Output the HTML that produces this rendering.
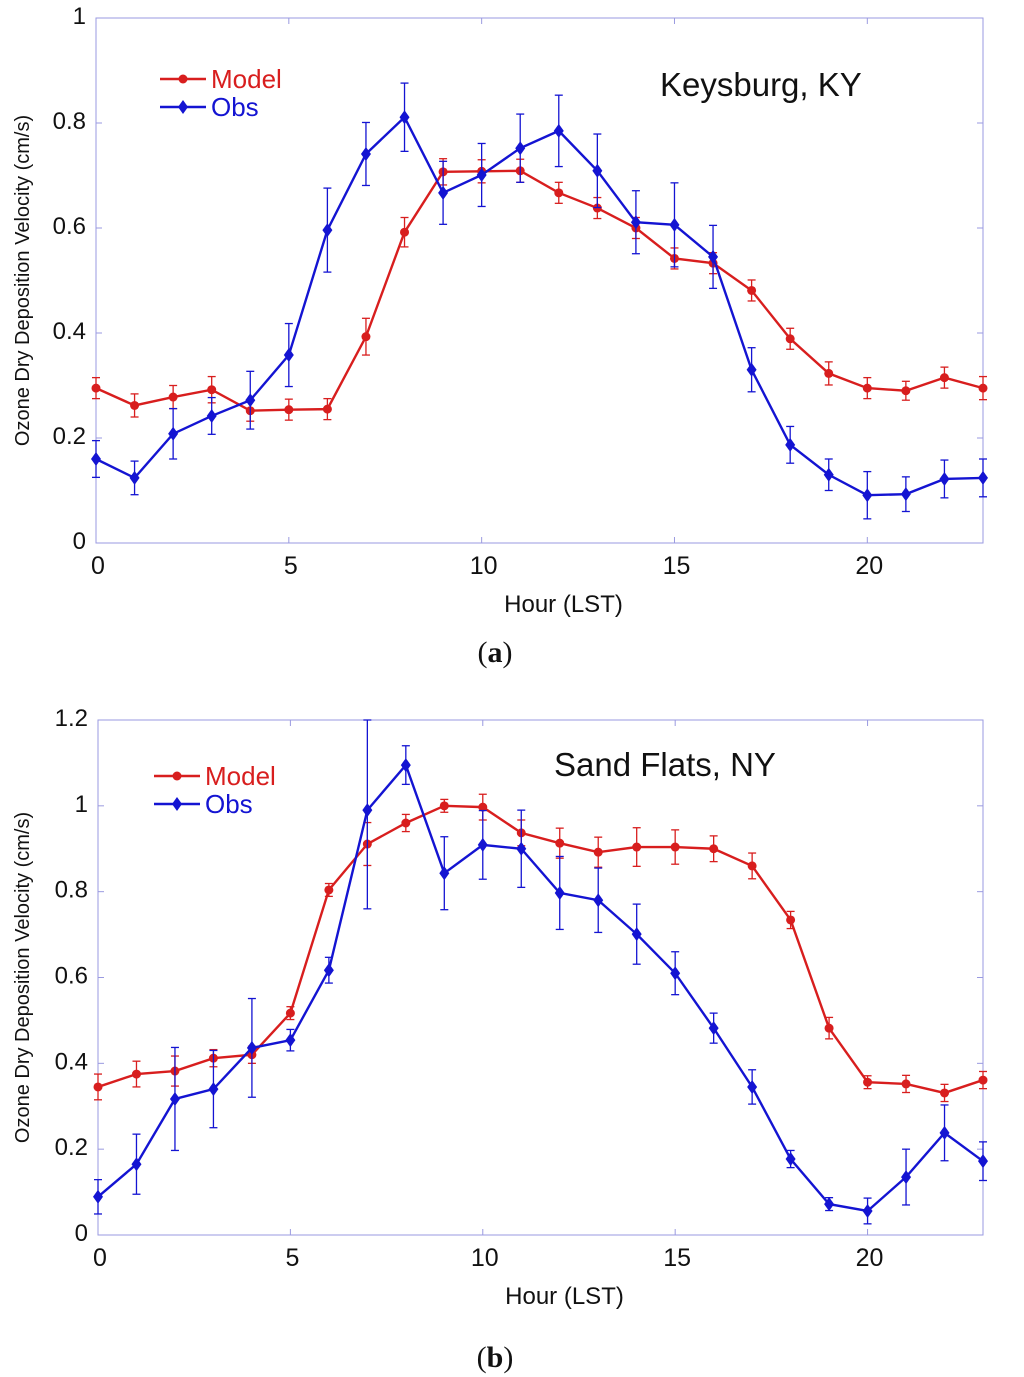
<!DOCTYPE html>
<html><head><meta charset="utf-8">
<style>
body{margin:0;background:#fff;width:1024px;height:1377px;overflow:hidden;font-family:"Liberation Sans",sans-serif}
svg{position:absolute;left:0;top:0}
</style></head>
<body>
<svg id="chart" width="1024" height="1377"></svg>
<script>
const hours=[...Array(24).keys()];
const aModel=[0.295,0.262,0.278,0.292,0.252,0.254,0.255,0.393,0.592,0.707,0.708,0.709,0.667,0.638,0.600,0.542,0.533,0.481,0.389,0.323,0.295,0.290,0.315,0.295];
const aModelErr=[0.02,0.022,0.022,0.025,0.02,0.02,0.02,0.035,0.028,0.025,0.022,0.022,0.02,0.02,0.02,0.02,0.02,0.02,0.02,0.022,0.02,0.018,0.02,0.022];
const aObs=[0.16,0.124,0.208,0.242,0.272,0.358,0.596,0.741,0.811,0.667,0.701,0.752,0.785,0.709,0.611,0.606,0.545,0.33,0.187,0.13,0.091,0.093,0.122,0.124];
const aObsErr=[0.035,0.032,0.048,0.035,0.055,0.06,0.08,0.06,0.065,0.06,0.06,0.065,0.068,0.07,0.06,0.08,0.06,0.042,0.035,0.03,0.045,0.033,0.036,0.036];
const bModel=[0.345,0.375,0.382,0.412,0.42,0.517,0.804,0.911,0.96,1.0,0.997,0.937,0.913,0.892,0.904,0.904,0.9,0.86,0.734,0.482,0.356,0.352,0.331,0.361];
const bModelErr=[0.03,0.03,0.035,0.02,0.02,0.015,0.015,0.05,0.02,0.015,0.03,0.03,0.035,0.035,0.045,0.04,0.03,0.03,0.02,0.025,0.015,0.02,0.02,0.02];
const bObs=[0.089,0.165,0.317,0.34,0.436,0.454,0.617,0.99,1.095,0.843,0.909,0.9,0.797,0.78,0.701,0.61,0.482,0.345,0.177,0.072,0.056,0.135,0.238,0.172];
const bObsErr=[0.04,0.07,0.12,0.09,0.115,0.025,0.03,0.23,0.045,0.085,0.08,0.09,0.085,0.075,0.07,0.05,0.035,0.04,0.02,0.015,0.03,0.065,0.065,0.045];
const xTicks=[0,5,10,15,20];
const aYTicks=[0,0.2,0.4,0.6,0.8,1];
const bYTicks=[0,0.2,0.4,0.6,0.8,1,1.2];
const aYLabels=["0","0.2","0.4","0.6","0.8","1"];
const bYLabels=["0","0.2","0.4","0.6","0.8","1","1.2"];
const RED="#d81e1e",BLUE="#1414d2";
const svg=document.getElementById('chart');
const NS="http://www.w3.org/2000/svg";
function el(tag,attrs,parent,text){const e=document.createElementNS(NS,tag);for(const k in attrs)e.setAttribute(k,attrs[k]);if(text!==undefined)e.textContent=text;(parent||svg).appendChild(e);return e;}
function panel(cfg){
  const g=el('g',{});
  
  
  const xs=h=>cfg.x0+(cfg.x1-cfg.x0)*h/23;
  const ys=v=>cfg.yb-(cfg.yb-cfg.yt)*v/cfg.ymax;
  const box=el('rect',{x:cfg.bx0,y:cfg.yt,width:cfg.bx1-cfg.bx0,height:cfg.yb-cfg.yt,fill:'none',stroke:'#9a9ae0','stroke-width':1},g);
  
  
  cfg.yTicks.forEach((t,i)=>{
    const y=ys(t);
    el('line',{x1:cfg.bx0,x2:cfg.bx0+6,y1:y,y2:y,stroke:'#9a9ae0'},g);
    el('line',{x1:cfg.bx1,x2:cfg.bx1-6,y1:y,y2:y,stroke:'#9a9ae0'},g);
    const tx=el('text',{x:cfg.bx0-10,y:y+6,'text-anchor':'end','font-size':24,fill:'#111'},g,cfg.yLabels[i]);
    
    
  });
  xTicks.forEach(t=>{
    const x=xs(t);
    el('line',{x1:x,x2:x,y1:cfg.yb,y2:cfg.yb-6,stroke:'#9a9ae0'},g);
    el('line',{x1:x,x2:x,y1:cfg.yt,y2:cfg.yt+6,stroke:'#9a9ae0'},g);
    const tx=el('text',{x:x+2,y:cfg.yb+31,'text-anchor':'middle','font-size':25,fill:'#111'},g,String(t));
    
    
  });
  const xt=el('text',{x:(cfg.bx0+cfg.bx1)/2+24,y:cfg.yb+69,'text-anchor':'middle','font-size':24,fill:'#111'},g,'Hour (LST)');
  
  
  const ty=(cfg.yt+cfg.yb)/2;
  const yt=el('text',{x:0,y:0,transform:`translate(${cfg.ytx},${ty}) rotate(-90)`,'text-anchor':'middle','font-size':20,fill:'#111'},g,'Ozone Dry Deposition Velocity (cm/s)');
  
  
  function series(vals,errs,color,marker,name){
    const sg=el('g',{},g);
    
    
    hours.forEach(h=>{
      const x=xs(h);
      const top=Math.max(ys(vals[h]+errs[h]),cfg.yt), bot=ys(vals[h]-errs[h]);
      el('line',{x1:x,x2:x,y1:top,y2:bot,stroke:color,'stroke-width':1.3},sg);
      el('line',{x1:x-4,x2:x+4,y1:top,y2:top,stroke:color,'stroke-width':1.3},sg);
      el('line',{x1:x-4,x2:x+4,y1:bot,y2:bot,stroke:color,'stroke-width':1.3},sg);
    });
    el('polyline',{points:hours.map(h=>xs(h)+','+ys(vals[h])).join(' '),fill:'none',stroke:color,'stroke-width':2.4},sg);
    hours.forEach(h=>{
      const x=xs(h),y=ys(vals[h]);
      const m=marker==='circle'?el('circle',{cx:x,cy:y,r:4.5,fill:color},sg):el('polygon',{points:`${x},${y-7} ${x+5},${y} ${x},${y+7} ${x-5},${y}`,fill:color},sg);
      
      
    });
  }
  series(cfg.model,cfg.modelErr,RED,'circle','model-series');
  series(cfg.obs,cfg.obsErr,BLUE,'diamond','obs-series');
  const lg=el('g',{},g);
  
  
  const lx=cfg.lx,ly=cfg.ly;
  el('line',{x1:lx,x2:lx+46,y1:ly,y2:ly,stroke:RED,'stroke-width':2.4},lg);
  el('circle',{cx:lx+23,cy:ly,r:4.5,fill:RED},lg);
  el('text',{x:lx+51,y:ly+9,'font-size':26,fill:RED},lg,'Model');
  el('line',{x1:lx,x2:lx+46,y1:ly+28,y2:ly+28,stroke:BLUE,'stroke-width':2.4},lg);
  el('polygon',{points:`${lx+23},${ly+21} ${lx+28},${ly+28} ${lx+23},${ly+35} ${lx+18},${ly+28}`,fill:BLUE},lg);
  el('text',{x:lx+51,y:ly+37,'font-size':26,fill:BLUE},lg,'Obs');
  const st=el('text',{x:cfg.tx,y:cfg.ty,'font-size':33,fill:'#111'},g,cfg.title);
  
  
  const pl=el('text',{x:495,y:cfg.labY,'text-anchor':'middle','font-size':30,'font-family':'Liberation Serif',fill:'#111'},g);
  
  
  el('tspan',{},pl,'(');el('tspan',{'font-weight':'bold'},pl,cfg.lab);el('tspan',{},pl,')');
}
panel({name:'panel-a',x0:96,x1:983,bx0:96,bx1:983,yt:18,yb:543,ymax:1,yTicks:aYTicks,yLabels:aYLabels,model:aModel,modelErr:aModelErr,obs:aObs,obsErr:aObsErr,ytx:29,lx:160,ly:79,tx:660,ty:96,title:'Keysburg, KY',labY:662,lab:'a'});
panel({name:'panel-b',x0:98,x1:983,bx0:98,bx1:983,yt:720,yb:1235,ymax:1.2,yTicks:bYTicks,yLabels:bYLabels,model:bModel,modelErr:bModelErr,obs:bObs,obsErr:bObsErr,ytx:29,lx:154,ly:776,tx:554,ty:776,title:'Sand Flats, NY',labY:1367,lab:'b'});
</script>
</body></html>
